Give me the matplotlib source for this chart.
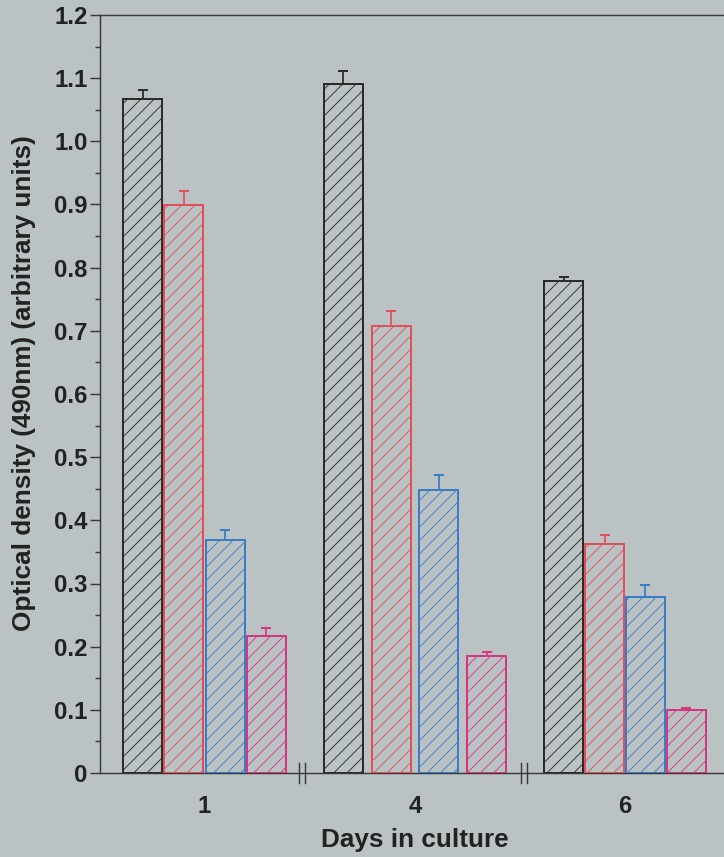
import matplotlib.pyplot as plt
import numpy as np

days = ["1", "4", "6"]
series_colors = ["#2b2b2b", "#e0505a", "#3b7cc6", "#d4377f"]

# optical density per series (rows) for each day (columns)
means = [
    [1.067, 1.091, 0.779],
    [0.899, 0.707, 0.362],
    [0.369, 0.448, 0.279],
    [0.217, 0.185, 0.100],
]
errs = [
    [0.015, 0.020, 0.006],
    [0.022, 0.024, 0.014],
    [0.015, 0.024, 0.019],
    [0.012, 0.007, 0.003],
]

yticks = np.round(np.arange(0, 1.21, 0.1), 1)
ytick_labels = ["0"] + [f"{v:.1f}" for v in yticks[1:]]

bg = "#bac2c4"
axis_col = "#3a3a3a"
text_col = "#222222"

plt.rcParams["font.family"] = ["Liberation Sans", "DejaVu Sans"]
plt.rcParams["font.weight"] = "bold"
plt.rcParams["hatch.linewidth"] = 0.8

fig = plt.figure(figsize=(724 / 80, 857 / 80), dpi=80, facecolor=bg)
ax = fig.add_axes([100 / 724, 84 / 857, 624 / 724, 758 / 857])
ax.set_facecolor(bg)

# x positions in pixel-like units across the axes width
bar_w = 39
centers = [104.5, 315, 525]
steps = [41.3, 47.7, 40.7]
breaks = [202, 424]

for i in range(len(means)):
    xs = [c + (i - 1.5) * s for c, s in zip(centers, steps)]
    ax.bar(xs, means[i], width=bar_w, facecolor="none",
           edgecolor=series_colors[i], linewidth=1.8, hatch="//", zorder=3)
    ax.errorbar(xs, means[i], yerr=[np.zeros(3), errs[i]], fmt="none",
                ecolor=series_colors[i], elinewidth=1.6, capsize=4.5,
                capthick=1.8, zorder=4)

# axis break marks
for b in breaks:
    for dx in (-3, 3):
        ax.plot([b + dx, b + dx], [-0.016, 0.016], color=axis_col, lw=1.3,
                clip_on=False, zorder=5)

ax.set_xlim(0, 624)
ax.set_ylim(0, 1.2)
ax.set_xticks(centers)
ax.set_xticklabels(days, fontsize=21.5, fontweight="bold")
ax.tick_params(axis="x", length=0, pad=20, colors=text_col)
ax.set_yticks(yticks)
ax.set_yticklabels(ytick_labels, fontsize=21.5, fontweight="bold")
ax.set_yticks(np.arange(0.05, 1.2, 0.1), minor=True)
ax.tick_params(axis="y", which="major", length=9, width=1.3, pad=2,
               color=axis_col, labelcolor=text_col)
ax.tick_params(axis="y", which="minor", length=4.5, width=1.3, color=axis_col)

for side in ["left", "bottom", "top"]:
    ax.spines[side].set_color(axis_col)
    ax.spines[side].set_linewidth(1.3)
ax.spines["right"].set_visible(False)

ax.set_ylabel("Optical density (490nm) (arbitrary units)", fontsize=23.5,
              fontweight="bold", color=text_col)
ax.set_xlabel("Days in culture", fontsize=23.5, fontweight="bold",
              color=text_col)
ax.yaxis.set_label_coords(-0.103, 0.5145)
ax.xaxis.set_label_coords(0.505, -0.072)

fig.savefig("out.png", dpi=80, facecolor=bg)
